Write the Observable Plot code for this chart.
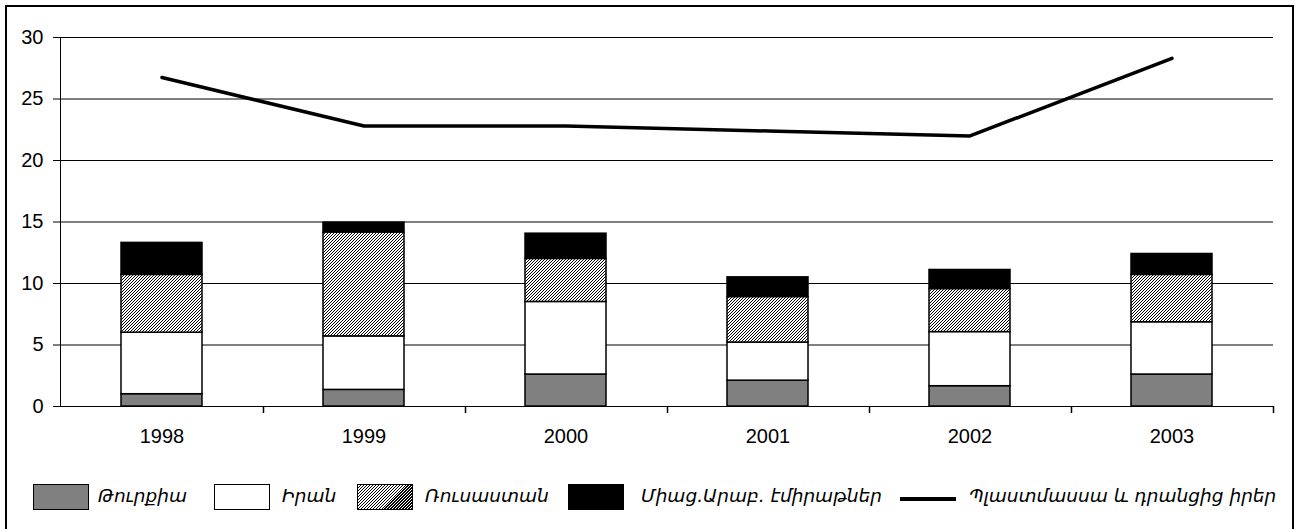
<!DOCTYPE html>
<html>
<head>
<meta charset="utf-8">
<script src="https://cdn.jsdelivr.net/npm/d3@7"></script>
<script src="https://cdn.jsdelivr.net/npm/@observablehq/plot@0.6"></script>
<style>
  html, body { margin: 0; padding: 0; background: white; }
  #wrap { position: relative; width: 1303px; height: 529px; overflow: hidden; }
  #chart { position: absolute; left: 0; top: 0; }
  #frame { position: absolute; left: 5px; top: 5px; width: 1285px; height: 560px; border: 2px solid black; pointer-events: none; z-index: 5; }
  .leg { position: absolute; font-family: "DejaVu Sans", sans-serif; font-style: italic; font-size: 18.5px; color: black; white-space: nowrap; line-height: 1; }
  .sw { position: absolute; top: 484px; width: 54px; height: 24px; border: 1.5px solid black; box-sizing: content-box; }
  .txt { top: 487px; }
</style>
</head>
<body>
<div id="wrap">
  <div id="chart"></div>
  <div id="legend"></div>
  <div id="frame"></div>
</div>
<script>
const years = ["1998", "1999", "2000", "2001", "2002", "2003"];
const seriesNames = ["Թուրքիա", "Իրան", "Ռուսաստան", "Միաց.Արաբ. էմիրաթներ"];
const turkey = [1.0, 1.35, 2.6, 2.1, 1.65, 2.6];
const iran = [5.0, 4.35, 5.9, 3.1, 4.4, 4.25];
const russia = [4.7, 8.45, 3.5, 3.7, 3.5, 3.85];
const uae = [2.6, 0.8, 2.05, 1.6, 1.55, 1.7];
const lineName = "Պլաստմասսա և դրանցից իրեր";
const plastics = [26.75, 22.8, 22.8, 22.4, 22.0, 28.3];
const yTicks = [0, 5, 10, 15, 20, 25, 30];
const fills = ["#808080", "#ffffff", "url(#hatch)", "#000000"];

const seriesValues = [turkey, iran, russia, uae];
const table = [];
years.forEach((yr, i) => {
  seriesNames.forEach((s, j) => table.push({year: yr, series: s, value: seriesValues[j][i]}));
});
const lineData = years.map((yr, i) => ({year: yr, value: plastics[i]}));

const W = 1303, H = 470;
const plot = Plot.plot({
  width: W,
  height: H,
  marginLeft: 60,
  marginRight: 30,
  marginTop: 37,
  marginBottom: 64,
  style: {fontFamily: "'Liberation Sans', Arial, sans-serif", fontSize: "20px", color: "black", background: "white"},
  x: {domain: years, paddingInner: 0.6, paddingOuter: 0.3, tickSize: 0, tickPadding: 22, label: null},
  y: {domain: [0, 30], ticks: yTicks, tickSize: 7, tickPadding: 10, line: true, label: null, tickFormat: d => String(d)},
  color: {type: "ordinal", domain: seriesNames, range: fills},
  marks: [
    Plot.ruleY(yTicks, {stroke: "black", strokeWidth: 1}),
    Plot.barY(table, {x: "year", y: "value", fill: "series", stroke: "black", strokeWidth: 1.5}),
    Plot.line(lineData, {x: "year", y: "value", stroke: "black", strokeWidth: 3.5, strokeLinecap: "round", strokeLinejoin: "miter"})
  ]
});
document.getElementById("chart").appendChild(plot);

// hatch pattern definition for the Russia series
const svg = d3.select(plot.tagName.toLowerCase() === "svg" ? plot : plot.querySelector("svg"));
const defs = svg.insert("defs", ":first-child");
const pat = defs.append("pattern")
  .attr("id", "hatch").attr("patternUnits", "userSpaceOnUse")
  .attr("width", 3).attr("height", 3);
pat.append("rect").attr("width", 3).attr("height", 3).attr("fill", "white");
pat.append("path").attr("d", "M-1,1 l2,-2 M0,3 l3,-3 M2,4 l2,-2")
  .attr("stroke", "black").attr("stroke-width", 1);

// x-axis tick marks at category boundaries
const xs = plot.scale("x");
const ys = plot.scale("y");
const y0 = ys.apply(0);
const starts = years.map(y => xs.apply(y));
const step = starts[1] - starts[0];
const bw = xs.bandwidth;
const bounds = years.map(y => xs.apply(y) + bw / 2 + step / 2);
svg.append("g").selectAll("line").data(bounds).join("line")
  .attr("x1", d => Math.round(d) + 0.5).attr("x2", d => Math.round(d) + 0.5)
  .attr("y1", y0).attr("y2", y0 + 7)
  .attr("stroke", "black").attr("stroke-width", 1.5);

// legend
const legend = document.getElementById("legend");
const swX = [33, 214, 357, 568];
const txX = [98, 282, 425, 641];
seriesNames.forEach((s, j) => {
  const sw = document.createElement("div");
  sw.className = "sw";
  sw.style.left = swX[j] + "px";
  if (j === 2) {
    sw.style.background = "repeating-linear-gradient(-45deg, #000 0 0.9px, #fff 0.9px 2.1px)";
  } else {
    sw.style.background = fills[j];
  }
  legend.appendChild(sw);
  const t = document.createElement("div");
  t.className = "leg txt";
  t.style.left = txX[j] + "px";
  t.textContent = s;
  legend.appendChild(t);
});
const ln = document.createElement("div");
ln.style.cssText = "position:absolute;left:900px;top:497px;width:56px;height:4px;background:black;";
legend.appendChild(ln);
const lt = document.createElement("div");
lt.className = "leg txt";
lt.style.left = "969px";
lt.textContent = lineName;
legend.appendChild(lt);
</script>
</body>
</html>
